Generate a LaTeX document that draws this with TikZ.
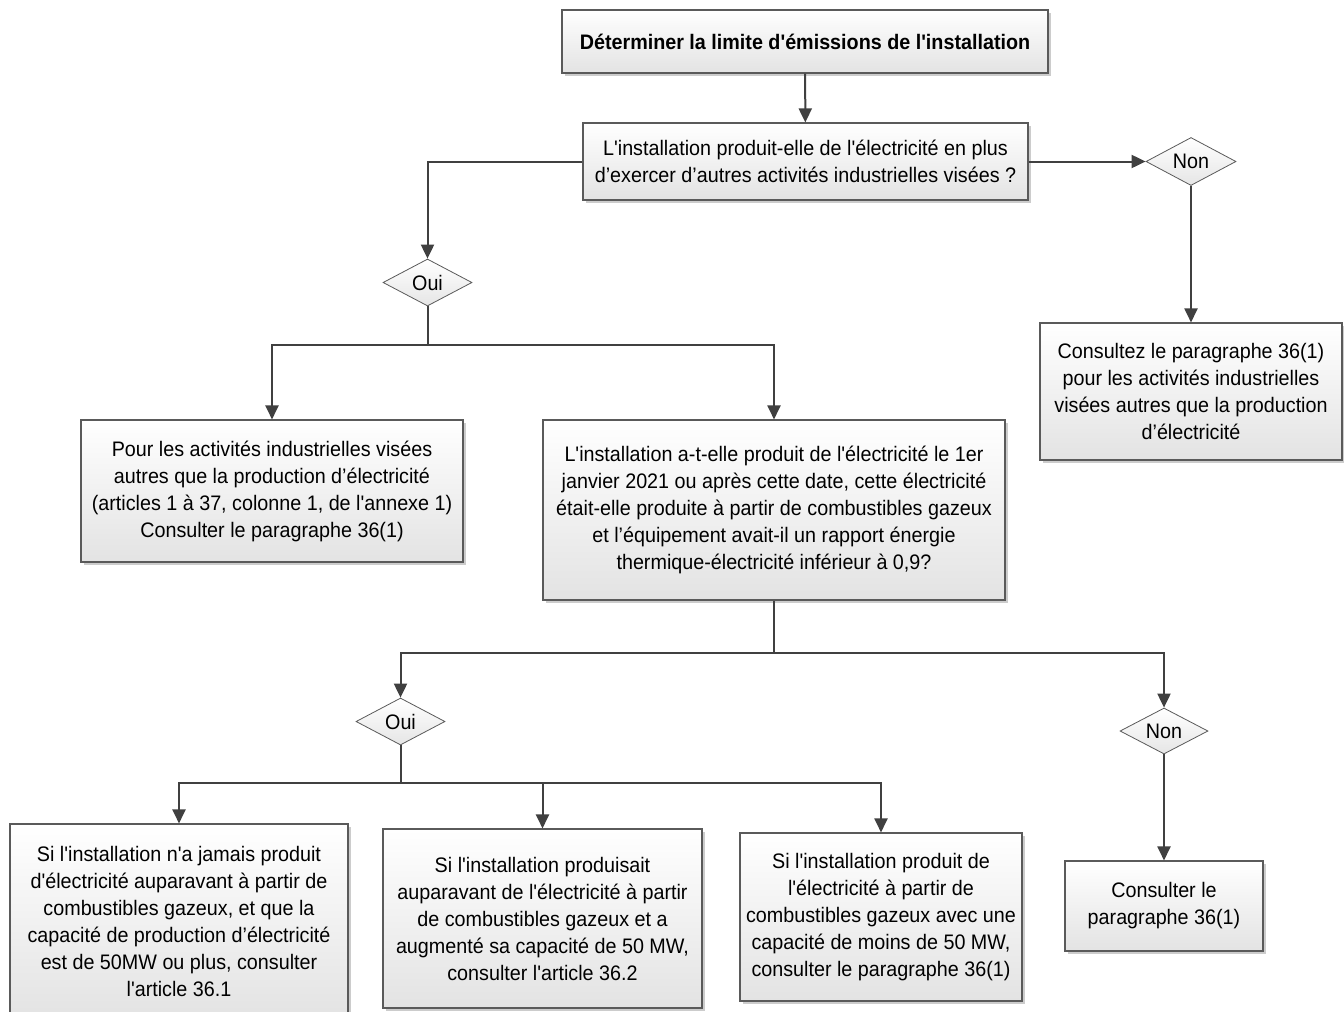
\documentclass[tikz,border=0pt]{standalone}
\usepackage{fontspec}
\setmainfont{Liberation Sans}[Ligatures=TeXOff,FakeStretch=0.94]
\usetikzlibrary{shapes.geometric,shadows,arrows.meta}
\definecolor{linec}{HTML}{404040}
\definecolor{borderc}{HTML}{5A5A5A}
\tikzset{
  base/.style={draw=borderc, line width=1.1pt, top color=white, bottom color=black!11,
    drop shadow={shadow xshift=3pt, shadow yshift=-3pt, fill=black, opacity=0.2},
    align=center, inner sep=0pt,
    font=\fontsize{21pt}{27pt}\selectfont},
  box/.style={base, rectangle},
  dec/.style={draw=borderc, line width=0.8pt, top color=white, bottom color=black!10,
    shape=diamond, aspect=2, inner sep=0pt,
    minimum width=89pt, minimum height=47pt,
    font=\fontsize{21pt}{27pt}\selectfont},
  conn/.style={draw=linec, line width=2pt, -{Triangle[length=14pt,width=13pt]}},
  plain/.style={draw=linec, line width=2pt},
}
\begin{document}
\begin{tikzpicture}[x=1pt,y=-1pt]
\useasboundingbox (0,0) rectangle (1344,1012);
\fill[white] (0,0) rectangle (1344,1012);

\node[box, minimum width=486pt, minimum height=63pt, font=\fontsize{21pt}{27pt}\selectfont\bfseries] (top) at (805,41.5)
  {Déterminer la limite d'émissions de l'installation};
\node[box, minimum width=445pt, minimum height=77pt] (q1) at (805.5,161.5)
  {L'installation produit-elle de l'électricité en plus\\d’exercer d’autres activités industrielles visées ?};
\node[dec, minimum width=90pt, minimum height=48pt] (non1) at (1191,161.5) {Non};
\node[box, minimum width=302pt, minimum height=137pt] (R) at (1191,391.5)
  {Consultez le paragraphe 36(1)\\pour les activités industrielles\\visées autres que la production\\d’électricité};
\node[dec] (oui1) at (427.5,282.5) {Oui};
\node[box, minimum width=382pt, minimum height=142pt] (L) at (272,491)
  {Pour les activités industrielles visées\\autres que la production d’électricité\\(articles 1 à 37, colonne 1, de l'annexe 1)\\Consulter le paragraphe 36(1)};
\node[box, minimum width=462pt, minimum height=180pt] (M) at (774,510)
  {L'installation a-t-elle produit de l'électricité le 1er\\janvier 2021 ou après cette date, cette électricité\\était-elle produite à partir de combustibles gazeux\\et l’équipement avait-il un rapport énergie\\thermique-électricité inférieur à 0,9?};
\node[dec] (oui2) at (400.5,721.5) {Oui};
\node[dec, minimum width=88pt, minimum height=46pt] (non2) at (1164,731) {Non};
\node[box, minimum width=338pt, minimum height=194pt] (B1) at (179,921)
  {Si l'installation n'a jamais produit\\d'électricité auparavant à partir de\\combustibles gazeux, et que la\\capacité de production d’électricité\\est de 50MW ou plus, consulter\\l'article 36.1};
\node[box, minimum width=319pt, minimum height=179pt] (B2) at (542.5,918.5)
  {Si l'installation produisait\\auparavant de l'électricité à partir\\de combustibles gazeux et a\\augmenté sa capacité de 50 MW,\\consulter l'article 36.2};
\node[box, minimum width=282pt, minimum height=168pt] (B3) at (881,917)
  {Si l'installation produit de\\l'électricité à partir de\\combustibles gazeux avec une\\capacité de moins de 50 MW,\\consulter le paragraphe 36(1)};
\node[box, minimum width=198pt, minimum height=90pt] (B4) at (1164,906)
  {Consulter le\\paragraphe 36(1)};

\coordinate (s1) at (427.5,345);
\coordinate (s2) at (774,653);
\coordinate (s3) at (400.5,783);

\draw[conn] (top) -- (q1);
\draw[conn] (q1.west) -| (oui1.north);
\draw[conn] (q1.east) -- (non1.west);
\draw[conn] (non1.south) -- (R.north);
\draw[plain] (oui1.south) -- (s1);
\draw[conn] (s1) -| (L.north);
\draw[conn] (s1) -| (M.north);
\draw[plain] (M.south) -- (s2);
\draw[conn] (s2) -| (oui2.north);
\draw[conn] (s2) -| (non2.north);
\draw[plain] (oui2.south) -- (s3);
\draw[conn] (s3) -| (B1.north);
\draw[conn] (s3) -| (B2.north);
\draw[conn] (s3) -| (B3.north);
\draw[conn] (non2.south) -- (B4.north);
\end{tikzpicture}
\end{document}
